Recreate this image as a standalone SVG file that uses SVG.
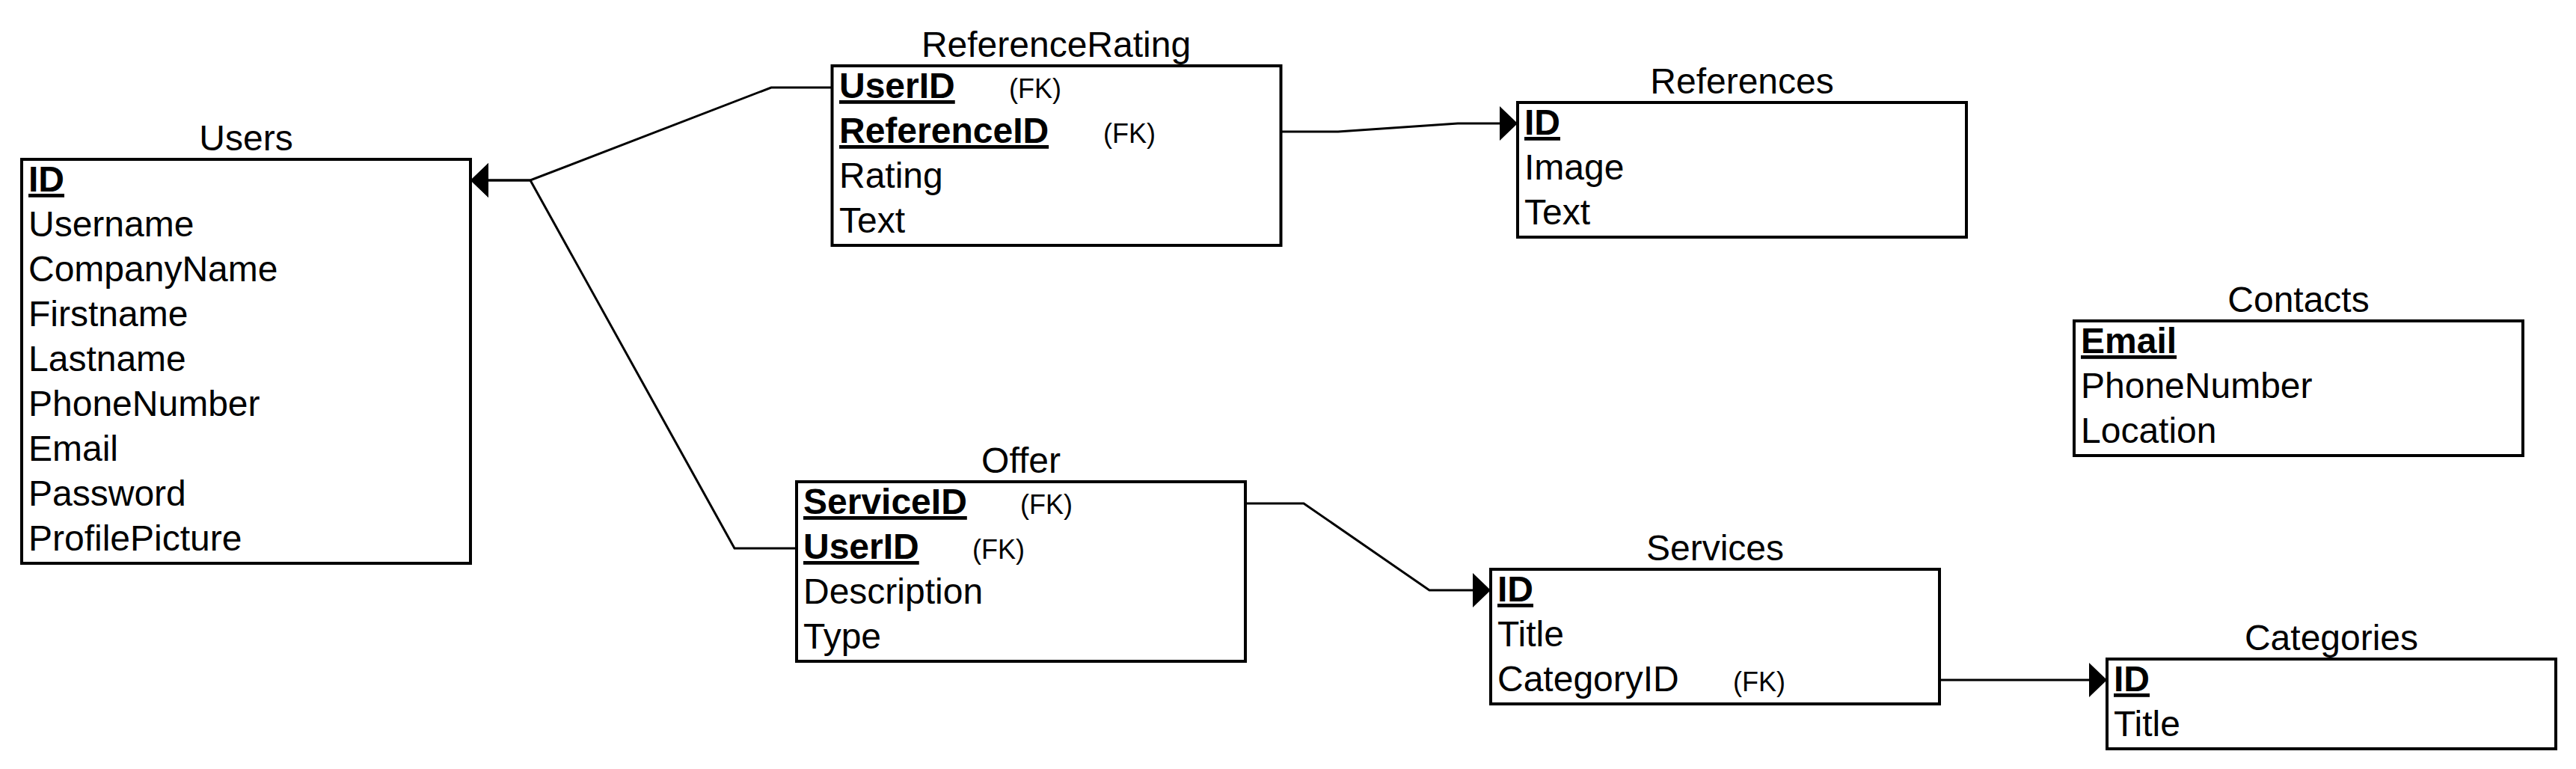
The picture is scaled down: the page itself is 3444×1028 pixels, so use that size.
<svg xmlns="http://www.w3.org/2000/svg" width="3444" height="1028" viewBox="0 0 3444 1028">
<style>
  text { font-family: "Liberation Sans", Arial, sans-serif; fill: #000; }
  .title { font-size: 48px; text-anchor: middle; }
  .row { font-size: 48px; }
  .pk { font-weight: bold; text-decoration: underline; text-decoration-thickness: 4px; text-underline-offset: 6px; }
  .fk { font-size: 36px; }
  .box { fill: #fff; stroke: #000; stroke-width: 4; }
  .conn { fill: none; stroke: #000; stroke-width: 3; stroke-linejoin: miter; }
</style>
<defs>
  <marker id="arrow" markerUnits="userSpaceOnUse" viewBox="0 0 24 46" refX="24" refY="23" markerWidth="24" markerHeight="46" orient="auto">
    <path d="M0,0 L24,23 L0,46 Z" fill="#000"/>
  </marker>
</defs>
<rect width="3444" height="1028" fill="#fff"/>

<g id="connectors">
  <path class="conn" d="M1113,117 L1031,117 L709,241 L629,241" marker-end="url(#arrow)"/>
  <path class="conn" d="M1065,733 L982,733 L709,241 L629,241" marker-end="url(#arrow)"/>
  <path class="conn" d="M1712,176 L1789,176 L1949,165 L2029,165" marker-end="url(#arrow)"/>
  <path class="conn" d="M1665,673 L1743,673 L1911,789 L1993,789" marker-end="url(#arrow)"/>
  <path class="conn" d="M2593,909 L2817,909" marker-end="url(#arrow)"/>
</g>

<g id="Users">
  <text class="title" x="329" y="201">Users</text>
  <rect class="box" x="29" y="213" width="600" height="540"/>
  <text class="row pk" x="38" y="256">ID</text>
  <text class="row" x="38" y="316">Username</text>
  <text class="row" x="38" y="376">CompanyName</text>
  <text class="row" x="38" y="436">Firstname</text>
  <text class="row" x="38" y="496">Lastname</text>
  <text class="row" x="38" y="556">PhoneNumber</text>
  <text class="row" x="38" y="616">Email</text>
  <text class="row" x="38" y="676">Password</text>
  <text class="row" x="38" y="736">ProfilePicture</text>
</g>

<g id="ReferenceRating">
  <text class="title" x="1412" y="76">ReferenceRating</text>
  <rect class="box" x="1112.5" y="88" width="600" height="240"/>
  <text class="row" x="1122" y="131"><tspan class="pk">UserID</tspan><tspan class="fk" x="1349">(FK)</tspan></text>
  <text class="row" x="1122" y="191"><tspan class="pk">ReferenceID</tspan><tspan class="fk" x="1475">(FK)</tspan></text>
  <text class="row" x="1122" y="251">Rating</text>
  <text class="row" x="1122" y="311">Text</text>
</g>

<g id="References">
  <text class="title" x="2329" y="125">References</text>
  <rect class="box" x="2029" y="137" width="600" height="180"/>
  <text class="row pk" x="2038" y="180">ID</text>
  <text class="row" x="2038" y="240">Image</text>
  <text class="row" x="2038" y="300">Text</text>
</g>

<g id="Contacts">
  <text class="title" x="3073" y="417">Contacts</text>
  <rect class="box" x="2773" y="429" width="600" height="180"/>
  <text class="row pk" x="2782" y="472">Email</text>
  <text class="row" x="2782" y="532">PhoneNumber</text>
  <text class="row" x="2782" y="592">Location</text>
</g>

<g id="Offer">
  <text class="title" x="1365" y="632">Offer</text>
  <rect class="box" x="1065" y="644" width="600" height="240"/>
  <text class="row" x="1074" y="687"><tspan class="pk">ServiceID</tspan><tspan class="fk" x="1364">(FK)</tspan></text>
  <text class="row" x="1074" y="747"><tspan class="pk">UserID</tspan><tspan class="fk" x="1300">(FK)</tspan></text>
  <text class="row" x="1074" y="807">Description</text>
  <text class="row" x="1074" y="867">Type</text>
</g>

<g id="Services">
  <text class="title" x="2293" y="749">Services</text>
  <rect class="box" x="1993" y="761" width="600" height="180"/>
  <text class="row pk" x="2002" y="804">ID</text>
  <text class="row" x="2002" y="864">Title</text>
  <text class="row" x="2002" y="924">CategoryID<tspan class="fk" x="2317">(FK)</tspan></text>
</g>

<g id="Categories">
  <text class="title" x="3117" y="869">Categories</text>
  <rect class="box" x="2817" y="881" width="600" height="120"/>
  <text class="row pk" x="2826" y="924">ID</text>
  <text class="row" x="2826" y="984">Title</text>
</g>
</svg>
